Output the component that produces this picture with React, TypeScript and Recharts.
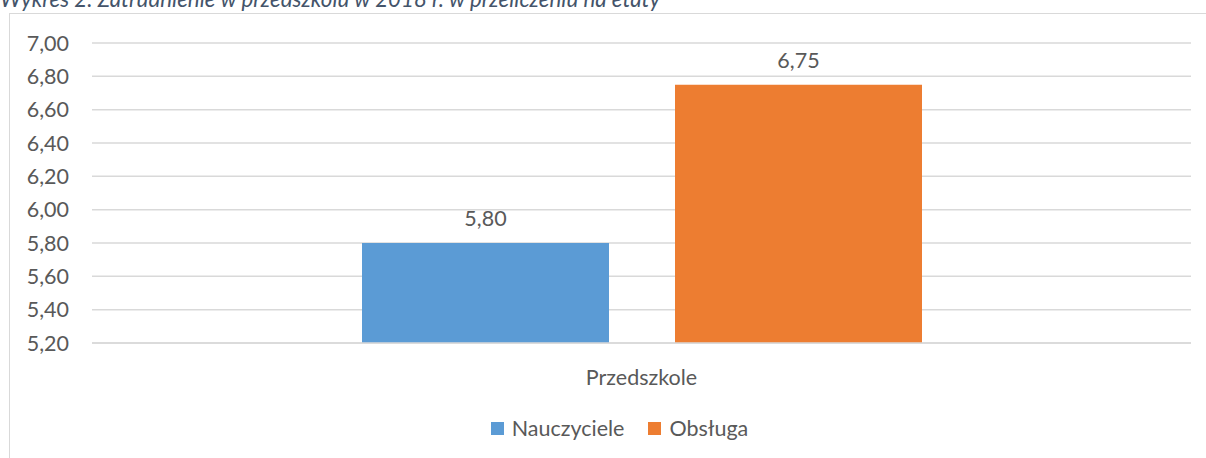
import { Bar, BarChart, CartesianGrid, LabelList, Legend, XAxis, YAxis } from "recharts";

const categories = ["Przedszkole"];
const nauczyciele = [5.8];
const obsluga = [6.75];
const yTicks = [5.2, 5.4, 5.6, 5.8, 6.0, 6.2, 6.4, 6.6, 6.8, 7.0];
const seriesNames = ["Nauczyciele", "Obsługa"];
const seriesColors = ["#5B9BD5", "#ED7D31"];

const data = categories.map((name, i) => ({
  name,
  nauczyciele: nauczyciele[i],
  obsluga: obsluga[i],
}));

const font = "Lato, 'Open Sans', sans-serif";
const textColor = "#595959";
const fontSize = 21.5;
const fmt = (v: number) => v.toFixed(2).replace(".", ",");

function LegendContent() {
  return (
    <div
      style={{
        display: "flex",
        justifyContent: "center",
        gap: 24,
        paddingLeft: 48,
        fontFamily: font,
        fontSize,
        color: textColor,
        lineHeight: "20px",
      }}
    >
      {seriesNames.map((n, i) => (
        <span key={n} style={{ display: "flex", alignItems: "center" }}>
          <span
            style={{
              width: 13,
              height: 13,
              background: seriesColors[i],
              marginRight: 8,
              display: "inline-block",
            }}
          />
          {n}
        </span>
      ))}
    </div>
  );
}

export default function App() {
  return (
    <div
      style={{
        position: "absolute",
        left: 0,
        top: 0,
        width: 1206,
        height: 458,
        overflow: "hidden",
        background: "#fff",
      }}
    >
      <div
        style={{
          position: "absolute",
          left: 0,
          top: -12,
          fontFamily: font,
          fontStyle: "italic",
          fontSize: 22.3,
          lineHeight: "22px",
          color: "#44546A",
          whiteSpace: "nowrap",
        }}
      >
        Wykres 2. Zatrudnienie w przedszkolu w 2018 r. w przeliczeniu na etaty
      </div>
      <div
        style={{
          position: "absolute",
          left: 9,
          top: 13,
          width: 1400,
          height: 600,
          border: "1.5px solid #d9d9d9",
        }}
      />
      <div style={{ position: "absolute", left: 0, top: 0 }}>
        <BarChart
          width={1206}
          height={458}
          data={data}
          margin={{ top: 43, right: 15, bottom: 0, left: 0 }}
          barSize={247}
          barGap={66}
        >
          <CartesianGrid vertical={false} stroke="#d9d9d9" strokeWidth={1.5} />
          <XAxis
            dataKey="name"
            height={75}
            tickLine={false}
            tickSize={6}
            tickMargin={21}
            axisLine={{ stroke: "#d9d9d9", strokeWidth: 1.5 }}
            tick={{ fill: textColor, fontFamily: font, fontSize }}
          />
          <YAxis
            width={92}
            domain={[5.2, 7.0]}
            ticks={yTicks}
            interval={0}
            tickFormatter={fmt}
            axisLine={false}
            tickLine={false}
            tickSize={6}
            tickMargin={17}
            tick={{ fill: textColor, fontFamily: font, fontSize }}
          />
          <Legend verticalAlign="bottom" height={40} content={<LegendContent />} />
          <Bar dataKey="nauczyciele" fill={seriesColors[0]} isAnimationActive={false}>
            <LabelList
              dataKey="nauczyciele"
              position="top"
              offset={17}
              formatter={(v: any) => fmt(Number(v))}
              style={{ fill: textColor, fontFamily: font, fontSize }}
            />
          </Bar>
          <Bar dataKey="obsluga" fill={seriesColors[1]} isAnimationActive={false}>
            <LabelList
              dataKey="obsluga"
              position="top"
              offset={17}
              formatter={(v: any) => fmt(Number(v))}
              style={{ fill: textColor, fontFamily: font, fontSize }}
            />
          </Bar>
        </BarChart>
      </div>
    </div>
  );
}
